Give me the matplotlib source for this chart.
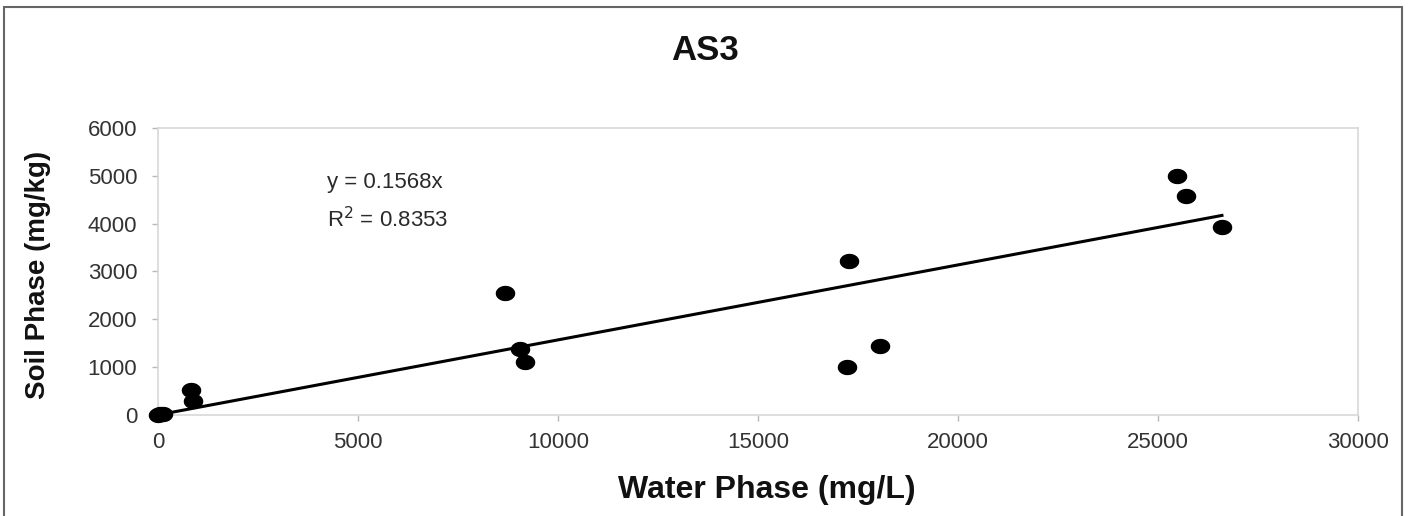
import matplotlib
matplotlib.use("Agg")
import matplotlib.pyplot as plt
import numpy as np
from matplotlib.patches import Rectangle
from matplotlib.path import Path

plt.rcParams["font.family"] = ["Liberation Sans", "DejaVu Sans"]

# AS3 partitioning: water phase vs soil phase concentrations
water_mg_l = [0, 60, 120, 820, 880, 8675, 9050, 9175, 17225, 17275, 18050, 25475, 25700, 26600]
soil_mg_kg = [0, 10, 20, 530, 290, 2550, 1380, 1110, 1000, 3220, 1440, 5000, 4580, 3930]

slope = 0.1568
r_squared = 0.8353

x_ticks = [0, 5000, 10000, 15000, 20000, 25000, 30000]
y_ticks = [0, 1000, 2000, 3000, 4000, 5000, 6000]

# slightly wide oval marker
t = np.linspace(0, 2 * np.pi, 60)
oval = Path(np.column_stack([1.3 * np.cos(t), np.sin(t)]), closed=True)

fig = plt.figure(figsize=(14.11, 5.16), dpi=100)
ax = fig.add_axes([0.112, 0.196, 0.8504, 0.556])

ax.scatter(water_mg_l, soil_mg_kg, s=170, marker=oval, color="black", zorder=3, clip_on=False)

# linear trend forced through the origin
xfit = np.array([0, max(water_mg_l)])
ax.plot(xfit, slope * xfit, color="black", lw=2.2, zorder=2)

ax.text(4230, 4870, "y = %.4fx" % slope, fontsize=16, color="#2a2a2a", va="center")
ax.text(4230, 4080, "R$^2$ = %.4f" % r_squared, fontsize=16, color="#2a2a2a", va="center")

ax.set_xlim(0, 30000)
ax.set_ylim(0, 6000)
ax.set_xticks(x_ticks)
ax.set_yticks(y_ticks)
ax.tick_params(labelsize=16, labelcolor="#333333", color="#b8b8b8", length=4, width=1)
ax.tick_params(axis="x", pad=8)
ax.tick_params(axis="y", pad=11)
for s in ax.spines.values():
    s.set_color("#d8d8d8")
    s.set_linewidth(1.2)

ax.set_xlabel("Water Phase (mg/L)", fontsize=23, fontweight="bold", va="center", color="#111111")
ax.xaxis.set_label_coords(0.507, -0.263)
ax.set_ylabel("Soil Phase (mg/kg)", fontsize=20, fontweight="bold", va="center", color="#111111")
ax.yaxis.set_label_coords(-0.1, 0.488)

fig.text(0.5, 1 - 50 / 516, "AS3", fontsize=25, fontweight="bold", ha="center", va="center",
         color="#111111")

# chart area border
fig.patches.append(Rectangle((0.003, -0.02), 0.9906, 1 - 7 / 516 + 0.02, transform=fig.transFigure,
                             fill=False, edgecolor="#666666", lw=1.5))

fig.savefig("out.png", dpi=100)
